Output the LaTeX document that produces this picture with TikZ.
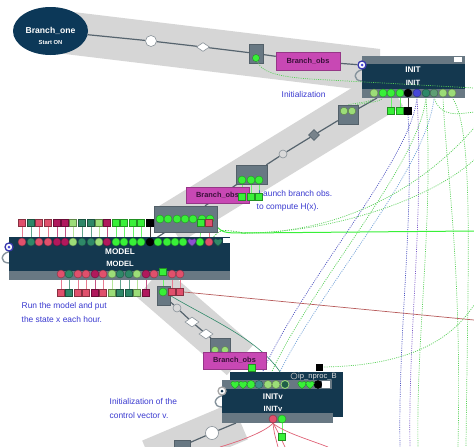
\documentclass[tikz,border=0pt]{standalone}
\usepackage{fontspec}
\setmainfont{Liberation Sans}
\usetikzlibrary{shapes.geometric}
\pgfdeclarelayer{bandlayer}
\pgfdeclarelayer{wirelayer}
\pgfsetlayers{bandlayer,wirelayer,main}
\definecolor{navy}{HTML}{14384F}
\definecolor{ellnavy}{HTML}{0C3858}
\definecolor{slate}{HTML}{687883}
\definecolor{bandg}{HTML}{D6D6D6}
\definecolor{flowg}{HTML}{56646E}
\definecolor{gG}{HTML}{38F038}
\definecolor{lG}{HTML}{9CDD78}
\definecolor{tG}{HTML}{2E8868}
\definecolor{tB}{HTML}{3E8C88}
\definecolor{mgr}{HTML}{5E9E74}
\definecolor{rP}{HTML}{E0506C}
\definecolor{mG}{HTML}{B0185C}
\definecolor{pU}{HTML}{8C50D0}
\definecolor{bL}{HTML}{4646D8}
\definecolor{mag}{HTML}{C848B4}
\definecolor{obsT}{HTML}{3A103A}
\definecolor{txtblue}{HTML}{3A3AD0}
\definecolor{redl}{HTML}{B85C5C}
\definecolor{dblue}{HTML}{4A50C0}
\definecolor{dgreen}{HTML}{56D056}
\definecolor{dlblue}{HTML}{70A0D8}
\definecolor{dpurp}{HTML}{7A5AC8}
\definecolor{redw}{HTML}{E06478}
\newcommand{\myheart}[3]{%
  \filldraw[fill=#3,draw=#3!60!black,line width=0.4pt,shift={(#1,#2)}]
   (0,4.2) .. controls (-2.5,2) and (-4.3,0.5) .. (-4.3,-1.3)
   .. controls (-4.3,-3.3) and (-1.5,-4.2) .. (0,-2.3)
   .. controls (1.5,-4.2) and (4.3,-3.3) .. (4.3,-1.3)
   .. controls (4.3,0.5) and (2.5,2) .. (0,4.2) -- cycle;}
\begin{document}
\begin{tikzpicture}[x=1pt,y=-1pt,
  band/.style={fill=bandg},
  flow/.style={draw=flowg,line width=1.2pt},
  port/.style={circle,inner sep=0pt,minimum size=8pt,fill=#1,draw=#1!60!black,line width=0.4pt},
  sq/.style={rectangle,inner sep=0pt,minimum size=7pt,fill=#1,draw=#1!60!black,line width=0.4pt},
  wire/.style={draw=#1!75!white,line width=0.7pt},
  gbox/.style={rectangle,inner sep=0pt,fill=slate,draw=slate!80!black,line width=0.3pt},
  mbox/.style={rectangle,inner sep=0pt,fill=mag,draw=mag!75!black,line width=0.5pt,text=obsT,font=\fontsize{7.4}{8}\selectfont\bfseries},
  bodybox/.style={rectangle,inner sep=0pt,anchor=north west,fill=navy},
  note/.style={text=txtblue,font=\fontsize{8.4}{10}\selectfont,inner sep=0pt,anchor=west},
  boxtitle/.style={text=white,font=\fontsize{8.2}{9}\selectfont\bfseries,inner sep=0pt},
  boxsub/.style={text=white,font=\fontsize{7.6}{9}\selectfont\bfseries,inner sep=0pt},
  dotl/.style={draw=#1,line width=0.7pt,dash pattern=on 1pt off 1.2pt},
  deco/.style={inner sep=0pt,fill=white,draw=flowg!70,line width=0.6pt},
  loopline/.style={draw=slate!80!white,line width=1.4pt},
  inring/.style={circle,inner sep=0pt,minimum size=8pt,fill=white,line width=1.3pt}
]
\useasboundingbox (0,0) rectangle (474,447);
% free ends
\coordinate (i2s) at (377,98);
\coordinate (i4s) at (236,423);
\coordinate (gl) at (245,233);
\coordinate (e1) at (400,447);
\coordinate (e2) at (410,447);
\coordinate (e3) at (418,447);
\coordinate (e4) at (458,447);
\coordinate (e5) at (466,447);
\coordinate (e6) at (474,112);
\coordinate (e7) at (474,128);
\coordinate (e8) at (474,160);
\coordinate (e9) at (474,305);
\coordinate (e10) at (474,231);
\coordinate (e11) at (474,320);
\coordinate (e12) at (220,447);
\coordinate (e13) at (278,447);
\coordinate (e14) at (285,447);
\coordinate (e15) at (328,447);
\coordinate (e16) at (474,88);

\begin{pgfonlayer}{bandlayer}
\begin{scope}
\clip (0,0) rectangle (474,447);
\fill[white] (0,0) rectangle (474,447);
\fill[band] (40,8) -- (380,49) -- (380,92) -- (40,51) -- cycle;
\fill[band] (381,70.1) -- (403,105.9) -- (181,241.9) -- (159,206.1) -- cycle;
\fill[band] (163.1,266.9) -- (253.1,344.9) -- (226.9,375.1) -- (136.9,297.1) -- cycle;
\fill[band] (232.2,402.6) -- (247.8,439.4) -- (157.8,477.4) -- (142.2,440.6) -- cycle;
\end{scope}
\end{pgfonlayer}

% ---------- band 1
\node[ellipse,fill=ellnavy,minimum width=75pt,minimum height=48pt,inner sep=0pt] (b1) at (50.5,31) {};
\node[text=white,font=\fontsize{8.6}{10}\selectfont\bfseries,inner sep=0pt] (b1t) at (50.5,31) {Branch\_one};
\node[text=white,font=\fontsize{5.8}{7}\selectfont\bfseries,inner sep=0pt] (b1s) at (50.5,42.5) {Start ON};
\node[deco,circle,minimum size=11pt] (c1) at (151,41) {};
\node[deco,diamond,minimum width=13pt,minimum height=9pt] (d1) at (203,47) {};
\node[gbox,minimum width=14pt,minimum height=19pt] (gb1) at (256,53.5) {};
\node[port=gG,minimum size=7pt] (g1p) at (256,58) {};
\node[mbox,minimum width=64pt,minimum height=18pt] (mb1) at (308,61) {Branch\_obs};

% ---------- INIT
\node[bodybox,minimum width=103pt,minimum height=42pt] (init) at (362,56) {};
\fill[slate] (362,56) rectangle (465,63.5);
\fill[slate] (362,89) rectangle (465,98);
\node[fill=white,inner sep=0pt,minimum width=8pt,minimum height=5pt] (initw) at (458,59.5) {};
\draw[dotl=dgreen] (g1p) .. controls (262,74) and (285,77) .. (310,79) -- (e16);
\node[boxtitle] (initT) at (413,70) {INIT};
\node[boxsub] (initS) at (413,83) {INIT};
\foreach \x/\c [count=\i] in {374/lG,383/gG,391/gG,400/gG,408/black,417/bL,426/tG,434/mgr,443/lG,452/lG}
  \node[port=\c] (i\i) at (\x,93) {};
\node[sq=gG] (is1) at (391,111) {};
\node[sq=gG] (is2) at (400,111) {};
\node[sq=black] (is3) at (408,111) {};
\node[inring,draw=bL!80!black] (inp1) at (362,65) {};
\node[circle,fill=bL,minimum size=3pt,inner sep=0pt] (inp1c) at (362,65) {};
\node[note] (n1) at (281.5,94) {Initialization};

% ---------- band 2
\node[gbox,minimum width=20pt,minimum height=19pt] (gb2) at (348,114.5) {};
\node[port=lG,minimum size=7.5pt] (g2a) at (344,111) {};
\node[port=lG,minimum size=7.5pt] (g2b) at (352,111) {};
\node[deco,diamond,fill=flowg!80!white,draw=flowg,minimum width=11pt,minimum height=11pt] (d2) at (314,135) {};
\node[deco,circle,fill=gray!30,minimum size=8pt] (c2) at (283,154) {};
\node[mbox,minimum width=63pt,minimum height=16pt] (mb2) at (217.5,195) {Branch\_obs};
\node[note] (n2a) at (258.3,193) {Launch branch obs.};
\node[note] (n2b) at (256.5,207) {to compute H(x).};
\node[gbox,minimum width=31pt,minimum height=19pt] (gb3) at (251.5,174.5) {};
\foreach \x [count=\i] in {242,251,259} {
  \node[port=gG] (g3\i) at (\x,180) {};
  \node[sq=gG] (s3\i) at (\x,197) {};
  \begin{pgfonlayer}{wirelayer}\draw[wire=gG] (g3\i) -- (s3\i);\end{pgfonlayer}
}

% ---------- box above MODEL
\node[gbox,minimum width=63pt,minimum height=26pt] (gb4) at (185.5,219) {};
\foreach \x [count=\i] in {160,168,177,185,193,202,210}
  \node[port=gG] (g4\i) at (\x,219) {};

% ---------- MODEL
\node[bodybox,minimum width=221pt,minimum height=43pt] (model) at (9,237) {};
\fill[slate] (9,271) rectangle (230,280);
\node[fill=white,inner sep=0pt,minimum width=7pt,minimum height=5pt] (modelw) at (226.5,240.5) {};
\foreach \x/\c [count=\i] in {22/rP,31/tG,39/rP,48/rP,57/mG,65/mG,73/lG,82/tG,91/tG,99/lG,107/mG,116/gG,124/gG,133/gG,141/gG,150/black,158/gG,167/gG,175/gG,183/gG,200/gG,209/rP}
  \node[port=\c] (mt\i) at (\x,242) {};
\myheart{192}{242}{pU}
\myheart{218}{242}{tG}
\foreach \x/\c [count=\i] in {22/rP,31/tG,39/rP,48/rP,57/mG,65/mG,73/lG,82/tG,91/tG,99/lG,107/mG,116/gG,124/gG,133/gG,141/gG,150/black} {
  \node[sq=\c] (ms\i) at (\x,223) {};
  \begin{pgfonlayer}{wirelayer}\draw[wire=\c] (ms\i) -- (mt\i);\end{pgfonlayer}
}
\node[sq=gG] (ms17) at (201,223) {};
\node[sq=rP] (ms18) at (209,223) {};
\node[boxtitle] (modelT) at (120,252) {MODEL};
\node[boxsub] (modelS) at (120,264) {MODEL};
\node[inring,draw=bL!80!black] (inpM) at (9,247) {};
\node[circle,fill=bL,minimum size=3pt,inner sep=0pt] (inpMc) at (9,247) {};
\foreach \x/\c [count=\i] in {61/rP,69/tG,78/rP,86/rP,95/mG,103/rP,112/lG,120/tG,129/tG,137/lG,146/mG,154/rP,172/rP,180/rP}
  \node[port=\c] (mc\i) at (\x,274) {};
\node[sq=gG] (mcg) at (163,272) {};
\foreach \x/\c [count=\i] in {61/rP,69/tG,78/rP,86/rP,95/mG,103/rP,112/lG,120/tG,129/tG,137/lG,146/mG} {
  \node[sq=\c] (mq\i) at (\x,293) {};
  \begin{pgfonlayer}{wirelayer}\draw[wire=\c] (mq\i) -- (mc\i);\end{pgfonlayer}
}
\node[gbox,minimum width=13pt,minimum height=19pt] (gb5) at (163.5,295.5) {};
\node[port=gG] (g5p) at (163,292) {};
\node[sq=rP] (r5a) at (172,292) {};
\node[sq=rP] (r5b) at (180,292) {};
\node[note] (n3a) at (21.5,306) {Run the model and put};
\node[note] (n3b) at (21.5,319) {the state x each hour.};

% ---------- band 3
\node[deco,circle,fill=gray!30,minimum size=8pt] (c3) at (177,308) {};
\node[deco,diamond,minimum width=14pt,minimum height=10pt] (d3) at (192,322) {};
\node[deco,diamond,minimum width=14pt,minimum height=10pt] (d4) at (206,334) {};
\node[gbox,minimum width=20pt,minimum height=14pt] (gb6) at (220,345) {};
\node[port=lG,minimum size=7pt] (g6a) at (215,350) {};
\node[port=lG,minimum size=7pt] (g6b) at (225,350) {};
\node[mbox,minimum width=63pt,minimum height=17pt] (mb3) at (234.5,360.5) {Branch\_obs};
\node[sq=gG] (vsq) at (252,368) {};

% ---------- INITv
\node[bodybox,minimum width=113pt,minimum height=45pt] (ivb) at (230,372) {};
\node[sq=black,minimum size=6pt] (bsq) at (319,367) {};
\fill[slate] (222,380) rectangle (332,389);
\node[bodybox,minimum width=111pt,minimum height=24pt] (initv) at (222,389) {};
\fill[slate] (222,413) rectangle (333,423);
\foreach \x/\c [count=\i] in {251/gG,259/tB,268/lG,276/lG,318/black}
  \node[port=\c] (v\i) at (\x,384.5) {};
\myheart{235}{384.5}{gG}
\myheart{243}{384.5}{gG}
\myheart{302}{384.5}{gG}
\myheart{310}{384.5}{gG}
\node[circle,fill=tG!70!black,draw=lG,line width=0.8pt,minimum size=8pt,inner sep=0pt] (vring) at (285,384.5) {};
\node[fill=white,inner sep=0pt,minimum width=8pt,minimum height=7pt] (vw) at (326,384.5) {};
\node[circle,draw=gray!60,line width=0.6pt,minimum size=6pt,inner sep=0pt] (ipr) at (294,376) {};
\node[text=gray!25,font=\fontsize{7.6}{9}\selectfont,inner sep=0pt,anchor=west] (ipt) at (298,376.5) {ip\_nproc\_B};
\node[inring,draw=gray!70] (inpV) at (222,391) {};
\node[circle,fill=navy,minimum size=3pt,inner sep=0pt] (inpVc) at (222,391) {};
\node[boxtitle] (initvT) at (273,397) {INITv};
\node[boxsub] (initvS) at (273,409) {INITv};
\node[port=rP] (vr) at (273,419) {};
\node[port=gG] (vg) at (282,419) {};
\node[sq=gG] (vgs) at (282,437) {};
\node[note] (n4a) at (109.5,401) {Initialization of the};
\node[note] (n4b) at (109.5,415) {control vector v.};

% ---------- band 4
\node[deco,circle,minimum size=13pt] (c4) at (212,433) {};
\node[gbox,minimum width=16pt,minimum height=12pt] (gb7) at (182,446) {};

% ---------- connectors
\begin{pgfonlayer}{wirelayer}
\begin{scope}
\clip (0,0) rectangle (474,447);
\draw[flow] (b1) -- (c1) -- (d1) -- (gb1) -- (mb1) -- (inp1);
\draw[flow] (i2s) -- (gb2) -- (d2) -- (c2) -- (gb3) -- (gb4) -- (mt16);
\draw[flow] (gb5) -- (c3) -- (d3) -- (d4) -- (gb6);
\draw[flow] (i4s) -- (c4) -- (gb7);
\draw[loopline] (inp1.south) .. controls (353,72) and (353,81) .. (362,81);
\draw[loopline] (inpM.south) .. controls (0,254) and (0,263) .. (9,263);
\draw[loopline] (inpV.south) .. controls (213,398) and (213,407) .. (222,407);
% square-port wires
\draw[wire=gG] (i3) -- (is1);
\draw[wire=gG] (i4) -- (is2);
\draw[wire=black] (i5) -- (is3);
\draw[wire=gG] (ms17) -- (mt21);
\draw[wire=rP] (ms18) -- (mt22);
\draw[wire=gG] (mcg) -- (g5p);
\draw[wire=rP] (mc13) -- (r5a);
\draw[wire=rP] (mc14) -- (r5b);
\draw[wire=gG] (vsq) -- (v1);
\draw[wire=gG] (vg) -- (vgs);
% dotted links
\draw[dotl=dgreen] (i1.south) .. controls (372,104) and (348,102) .. (g2a.north);
\draw[dotl=dgreen] (i2.south) .. controls (381,104) and (356,102) .. (g2b.north);
\draw[dotl=dblue] (i6.south) .. controls (412,160) and (298,285) .. (v2.north);
\draw[dotl=dgreen] (i7.south) .. controls (420,165) and (306,290) .. (v3.north);
\draw[dotl=dlblue] (i8.south) .. controls (428,170) and (314,295) .. (v4.north);
\draw[dotl=dblue] (is3.south) .. controls (414,220) and (398,330) .. (e1);
\draw[dotl=dpurp] (i6.south) .. controls (424,220) and (408,330) .. (e2);
\draw[dotl=dgreen] (i7.south) .. controls (434,220) and (416,330) .. (e3);
\draw[dotl=dgreen] (i9.south) .. controls (446,170) and (462,260) .. (e4);
\draw[dotl=dgreen] (i10.south) .. controls (474,130) and (468,250) .. (e5);
\draw[dotl=dgreen] (i8.south) .. controls (440,118) and (458,114) .. (e6);
\draw[dotl=dgreen] (gl) .. controls (340,233) and (420,190) .. (e7);
\draw[dotl=dgreen] (gl) .. controls (330,233) and (430,200) .. (e8);
\draw[dotl=dgreen] (bsq.east) .. controls (400,366) and (448,345) .. (e9);
% solid links
\draw[draw=gG,line width=1pt] (g47.south east) .. controls (222,233) .. (gl) -- (e10);
\draw[draw=gG!80!black,line width=0.6pt,dash pattern=on 1.5pt off 1.2pt] (mt22.north east) .. controls (220,229) .. (gl);
\draw[draw=redl,line width=0.7pt] (r5b.east) -- (e11);
\draw[draw=tG,line width=0.6pt] (gb5.east) .. controls (215,322) and (265,342) .. (vring.north);
\draw[draw=redw,line width=0.7pt] (vr.south) .. controls (265,432) and (240,441) .. (e12);
\draw[draw=redw,line width=0.7pt] (vr.south) .. controls (274,432) .. (e13);
\draw[draw=redw,line width=0.7pt] (vr.south) .. controls (277,430) .. (e14);
\draw[draw=redw,line width=0.7pt] (vr.south) .. controls (283,432) and (310,440) .. (e15);
\end{scope}
\end{pgfonlayer}
\end{tikzpicture}
\end{document}
